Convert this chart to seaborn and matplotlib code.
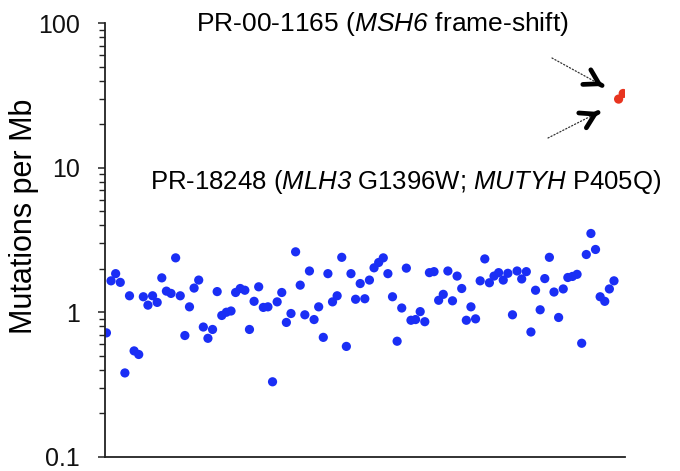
import numpy as np
import pandas as pd
import matplotlib
matplotlib.use('Agg')
import matplotlib.pyplot as plt
from matplotlib.ticker import FixedLocator, NullFormatter, FixedFormatter
import seaborn as sns

# mutation burden per sample (blue = all other samples, in plot order)
blue_values = [
    0.72, 1.65, 1.85, 1.61, 0.38, 1.30, 0.54, 0.51, 1.28, 1.12,
    1.30, 1.17, 1.73, 1.40, 1.35, 2.38, 1.30, 0.69, 1.09, 1.47,
    1.67, 0.79, 0.66, 0.76, 1.39, 0.95, 1.00, 1.02, 1.37, 1.46,
    1.42, 0.76, 1.19, 1.50, 1.08, 1.09, 0.33, 1.18, 1.37, 0.85,
    0.98, 2.62, 1.54, 0.96, 1.93, 0.89, 1.09, 0.67, 1.85, 1.18,
    1.30, 2.40, 0.58, 1.85, 1.23, 1.58, 1.24, 1.67, 2.03, 2.21,
    2.38, 1.85, 1.28, 0.63, 1.07, 2.02, 0.88, 0.89, 1.01, 0.86,
    1.88, 1.91, 1.21, 1.33, 1.93, 1.20, 1.78, 1.46, 0.88, 1.09,
    0.90, 1.65, 2.34, 1.60, 1.78, 1.88, 1.67, 1.86, 0.96, 1.93,
    1.70, 1.91, 0.73, 1.42, 1.04, 1.71, 2.40, 1.38, 0.92, 1.45,
    1.74, 1.77, 1.83, 0.61, 2.51, 3.51, 2.72, 1.28, 1.19, 1.45,
    1.65,
]
# hypermutated samples (red)
red_values = [29.9, 32.7]

y_ticks = [0.1, 1, 10, 100]
y_tick_labels = ['0.1', '1', '10', '100']
label_top = r'PR-00-1165 ($\mathit{MSH6}$ frame-shift)'
label_mid = r'PR-18248 ($\mathit{MLH3}$ G1396W; $\mathit{MUTYH}$ P405Q)'

values = blue_values + red_values
df = pd.DataFrame({
    'sample': np.arange(len(values)),
    'mut_per_mb': values,
    'group': ['other'] * len(blue_values) + ['hyper'] * len(red_values),
})

sns.set_style('ticks')
plt.rcParams['font.family'] = ['Liberation Sans', 'DejaVu Sans']
plt.rcParams['text.color'] = 'black'
plt.rcParams['axes.labelcolor'] = 'black'
# math text is only used for the italic gene names (digits included)
plt.rcParams['mathtext.fontset'] = 'custom'
plt.rcParams['mathtext.rm'] = 'Liberation Sans:italic'
plt.rcParams['mathtext.it'] = 'Liberation Sans:italic'

fig = plt.figure(figsize=(6.8, 4.71), dpi=100)
ax = fig.add_axes([0.154, 0.0304, 0.765, 0.92])

sns.scatterplot(data=df, x='sample', y='mut_per_mb', hue='group',
                palette={'other': '#1a2ef5', 'hyper': '#e8341f'},
                s=44, linewidth=0, legend=False, ax=ax)

ax.set_yscale('log')
ax.set_ylim(0.1, 100)
ax.set_xlim(-0.37, len(values) - 1 + 0.37)
ax.yaxis.set_major_locator(FixedLocator(y_ticks))
ax.yaxis.set_major_formatter(FixedFormatter(y_tick_labels))
ax.yaxis.set_minor_locator(FixedLocator(
    [m * 10.0 ** e for e in range(-1, 2) for m in range(2, 10)]))
ax.yaxis.set_minor_formatter(NullFormatter())
ax.tick_params(axis='y', which='major', direction='out', length=5, width=1.1,
               pad=13, labelsize=18, color='#222222', labelcolor='#111111')
ax.tick_params(axis='y', which='minor', direction='out', length=4.5, width=1.0,
               color='#222222')
ax.tick_params(axis='x', bottom=False, labelbottom=False)
ax.set_xlabel('')
ax.set_ylabel('Mutations per Mb', fontsize=22)
ax.yaxis.set_label_coords(-0.127, 0.554)

for side in ['top', 'right']:
    ax.spines[side].set_visible(False)
for side in ['left', 'bottom']:
    ax.spines[side].set_linewidth(1.3)
    ax.spines[side].set_color('#222222')

fig.text(382 / 680, 1 - 24 / 471, label_top, fontsize=19,
         ha='center', va='center')
fig.text(406 / 680, 1 - 182 / 471, label_mid, fontsize=18.5,
         ha='center', va='center')

# pointer arrows: thin dotted shaft with bold open head
arrows = [((552, 413), (603, 385)), ((548, 333), (599, 359))]
for tail, tip in arrows:
    ax.annotate('', xy=tip, xycoords='figure pixels', xytext=tail,
                textcoords='figure pixels',
                arrowprops=dict(arrowstyle='-', linestyle=':', lw=0.9,
                                color='#333333', shrinkA=0, shrinkB=0))
    d = np.array(tip, float) - np.array(tail, float)
    near = np.array(tip, float) - d / np.linalg.norm(d) * 1.0
    ax.annotate('', xy=tip, xycoords='figure pixels', xytext=tuple(near),
                textcoords='figure pixels',
                arrowprops=dict(arrowstyle='->, head_length=1.0, head_width=0.6',
                                lw=3.4, color='black', shrinkA=0, shrinkB=0,
                                capstyle='round', joinstyle='miter'))

fig.savefig('out.png', dpi=100)
